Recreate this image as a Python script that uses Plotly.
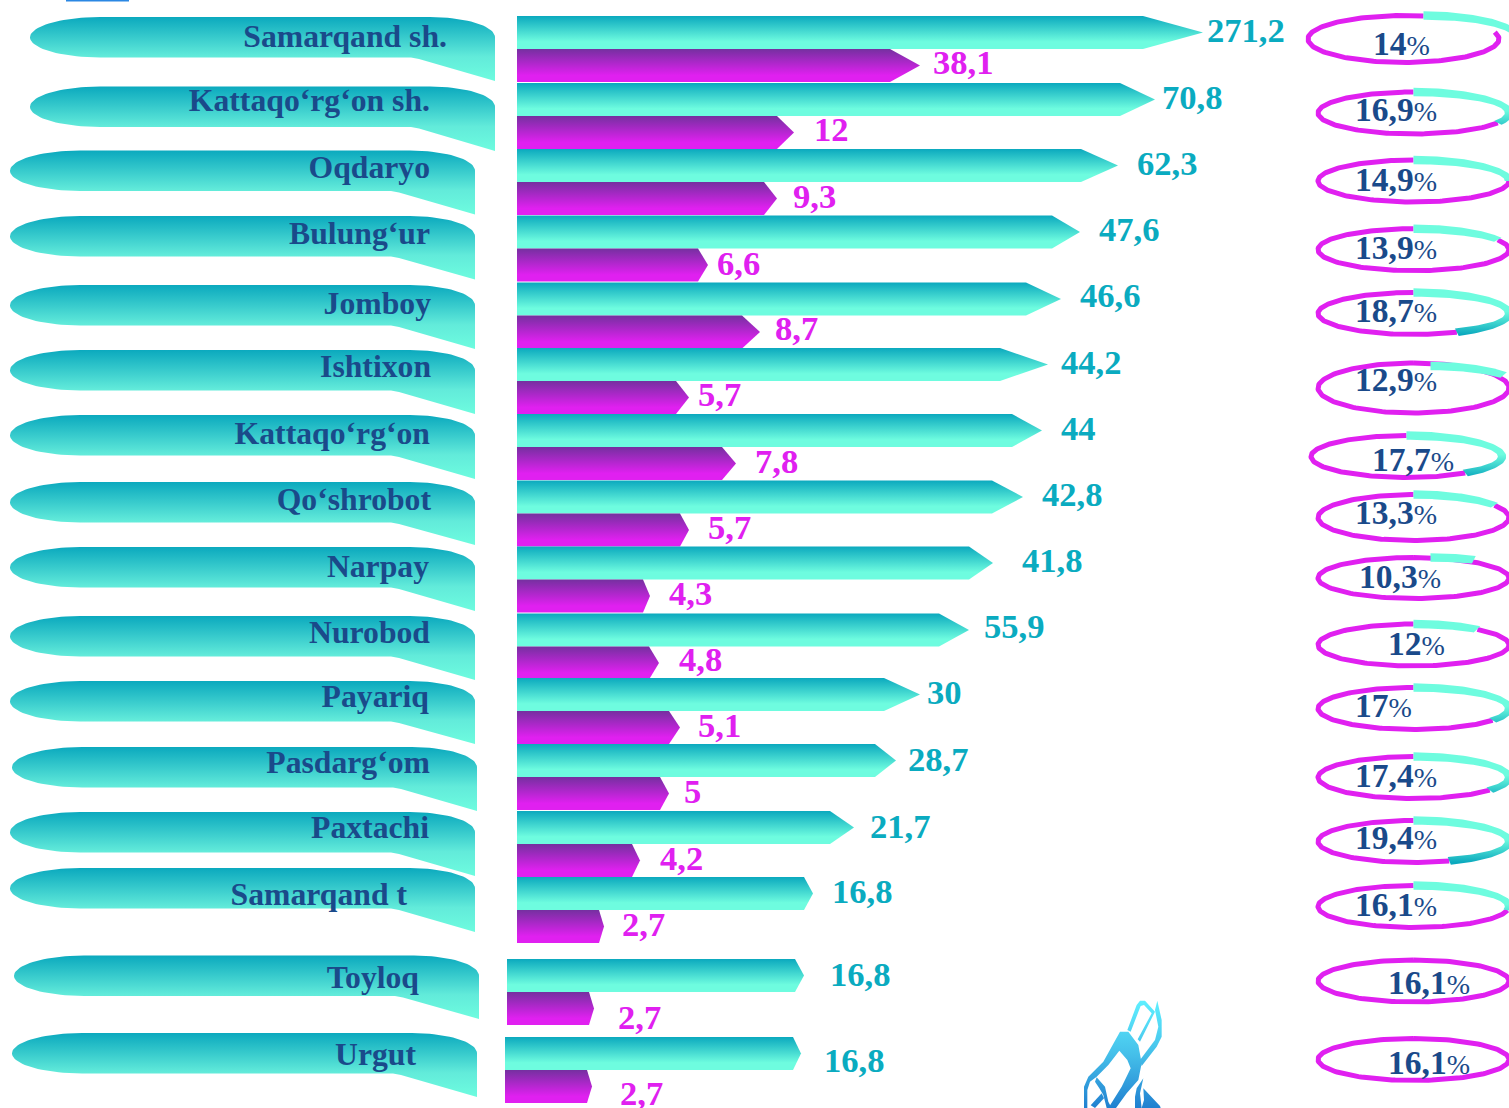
import numpy as np
import plotly.graph_objects as go

# ---------- data ----------
categories = ["Samarqand sh.", "Kattaqo‘rg‘on sh.", "Oqdaryo", "Bulung‘ur", "Jomboy", "Ishtixon",
              "Kattaqo‘rg‘on", "Qo‘shrobot", "Narpay", "Nurobod", "Payariq", "Pasdarg‘om",
              "Paxtachi", "Samarqand t", "Toyloq", "Urgut"]
teal_values = [271.2, 70.8, 62.3, 47.6, 46.6, 44.2, 44, 42.8, 41.8, 55.9, 30, 28.7, 21.7, 16.8, 16.8, 16.8]
purple_values = [38.1, 12, 9.3, 6.6, 8.7, 5.7, 7.8, 5.7, 4.3, 4.8, 5.1, 5, 4.2, 2.7, 2.7, 2.7]
share_values = [14, 16.9, 14.9, 13.9, 18.7, 12.9, 17.7, 13.3, 10.3, 12, 17, 17.4, 19.4, 16.1, 16.1, 16.1]

# drawn bar ends as they appear in the picture (the original's bars are not to scale)
teal_tip = [1203, 1155, 1118, 1080, 1061, 1048, 1042, 1023, 993, 969, 920, 896, 854, 813, 804, 801]
teal_shoulder = [1143, 1120, 1081, 1052, 1026, 1000, 1012, 992, 969, 939, 884, 875, 830, 804, 795, 793]
purple_tip = [920, 794, 777, 708, 760, 689, 736, 689, 650, 659, 680, 669, 640, 604, 594, 592]
purple_shoulder = [890, 777, 764, 698, 742, 676, 722, 680, 643, 649, 669, 660, 632, 599, 589, 587]
# drawn sweep of the ring highlight, degrees clockwise from the top (0 = none)
arc_sweep = [73, 118, 90, 62, 153, 50, 142, 58, 27, 42, 124, 127, 158, 100, 0, 0]

# ---------- layout geometry ----------
bar_x0 = [517] * 14 + [507, 505]
bar_top = [16, 83, 149, 215.5, 282.5, 348, 414, 480.5, 546.5, 613.5, 678, 744, 811, 877, 959, 1037]
BAR_H = 33
pill_left = [30, 30, 10, 10, 10, 10, 10, 10, 10, 10, 10, 12, 10, 10, 14, 12]
pill_top = [17, 86.5, 150.5, 216, 285, 350, 415, 482, 547, 616, 681, 747, 812, 868, 955.5, 1033]
pill_tail = [81, 151, 214.5, 279.5, 349, 414, 479, 545, 611, 680, 744, 811, 876, 932, 1019, 1097]
PILL_W, PILL_H = 465, 40.5
label_right = [447, 430, 430, 430, 431, 431, 430, 431, 429, 430, 429, 430, 429, 407, 419, 416]
label_y = [39.5, 103.5, 170.5, 236.5, 306.5, 369.5, 436.5, 502.5, 569.5, 635.5, 699.5, 765.5, 830.5, 897.5, 980, 1057.5]
teal_lab_x = [1207, 1162, 1137, 1099, 1080, 1061, 1061, 1042, 1022, 984, 927, 908, 870, 832, 830, 824]
teal_lab_y = [33.5, 100.5, 166.5, 232.5, 298.5, 365.5, 431.5, 497.5, 563.5, 629.5, 695.5, 762.5, 829.5, 894.5, 977.5, 1063.5]
purple_lab_x = [933, 814, 793, 717, 775, 698, 755, 708, 669, 679, 698, 684, 660, 622, 618, 620]
purple_lab_y = [65.5, 132.5, 199.5, 266.5, 331.5, 397.5, 464.5, 530.5, 596.5, 662.5, 728.5, 794.5, 861.5, 927.5, 1020.5, 1096.5]
ring_cx = [1403.5, 1413.5, 1413.5, 1413.5, 1413.5, 1413.5, 1406.5, 1413.5, 1413.5, 1413.5, 1413.5, 1413.5, 1413.5, 1413.5, 1413.5, 1413.5]
ring_cy = [39, 113, 181, 249.7, 313.5, 388, 456.5, 517.5, 578, 645, 708.5, 777.5, 841.5, 906.5, 981, 1059.5]
ring_ry = [23.5, 21, 21, 21, 21, 25, 21, 23, 20.5, 21, 21, 21, 21, 21, 21, 21]
RING_RX = 95.5
arc_dx = [20, 0, 0, 0, 0, 17, 0, 0, 17, 0, 0, 0, 0, 0, 0, 0]
arc_dy = [0, 0, 0, 0, 0, 3, 0, 0, 0, 0, 0, 0, 0, 0, 0, 0]
ring_full = [False, False, False, False, False, True, False, False, True, False, False, False, False, False, True, True]
pct_x = [1373, 1355, 1355, 1355, 1355, 1355, 1372, 1355, 1359, 1388, 1355, 1355, 1355, 1355, 1388, 1388]
pct_y = [46.5, 112.5, 182.5, 250.5, 313.5, 382.5, 462.5, 515.5, 579.5, 646.5, 708.5, 778.5, 840.5, 907.5, 985.5, 1065.5]

TEAL, MINT = "#0BA9BE", "#6EFCDF"
PURPLE_D, PURPLE_L = "#7530A0", "#E020F0"
NAVY = "#1A4A8A"
SERIF = "Liberation Serif"
teal_scale = [[0, TEAL], [0.78, MINT], [1, MINT]]
purple_scale = [[0, PURPLE_D], [0.8, PURPLE_L], [1, PURPLE_L]]
pill_scale = [[0, TEAL], [0.62, "#62EBDA"], [1, MINT]]
arc_scale = [[0, MINT], [0.45, MINT], [1, TEAL]]

fig = go.Figure()


def poly(xs, ys, scale, y0, y1):
    fig.add_trace(go.Scatter(
        x=list(xs), y=list(ys), mode="lines", line=dict(width=0), fill="toself",
        fillgradient=dict(type="vertical", colorscale=scale, start=y0, stop=y1),
        hoverinfo="skip", showlegend=False))


def pentagon(x0, shoulder, tip, top):
    return [x0, shoulder, tip, shoulder, x0, x0], [top, top, top + BAR_H / 2, top + BAR_H, top + BAR_H, top]


# label pills
for left, top, tail in zip(pill_left, pill_top, pill_tail):
    right = left + PILL_W
    bottom = top + PILL_H
    cy = top + PILL_H / 2
    a = np.linspace(np.pi, 1.5 * np.pi, 24)
    xs = list(left + 70 + 70 * np.cos(a))
    ys = list(cy + PILL_H / 2 * np.sin(a))
    a = np.linspace(1.5 * np.pi, 2 * np.pi, 24)
    xs += list(right - 65 + 65 * np.cos(a))
    ys += list(cy + PILL_H / 2 * np.sin(a))
    xs += [right, right - 76, right - 84, left + 70]
    ys += [tail, bottom + 1.5, bottom, bottom]
    a = np.linspace(0.5 * np.pi, np.pi, 24)
    xs += list(left + 70 + 70 * np.cos(a))
    ys += list(cy + PILL_H / 2 * np.sin(a))
    poly(xs, ys, pill_scale, top, tail)

# bars
for i in range(len(categories)):
    xs, ys = pentagon(bar_x0[i], teal_shoulder[i], teal_tip[i], bar_top[i])
    poly(xs, ys, teal_scale, bar_top[i], bar_top[i] + BAR_H)
    ptop = bar_top[i] + BAR_H
    xs, ys = pentagon(bar_x0[i], purple_shoulder[i], purple_tip[i], ptop)
    poly(xs, ys, purple_scale, ptop, ptop + BAR_H)

# rings
for i in range(len(categories)):
    start = 0 if ring_full[i] else arc_sweep[i]
    end = 360 if ring_full[i] else 360 + np.degrees(np.arcsin(arc_dx[i] / RING_RX))
    t = np.radians(np.linspace(start, end, 180))
    fig.add_trace(go.Scatter(
        x=ring_cx[i] + RING_RX * np.sin(t), y=ring_cy[i] - ring_ry[i] * np.cos(t), mode="lines",
        line=dict(color=PURPLE_L, width=5), hoverinfo="skip", showlegend=False))
    if arc_sweep[i] > 0:
        t = np.radians(np.linspace(0, arc_sweep[i], 60))
        w = 4.2
        cx, cy = ring_cx[i] + arc_dx[i], ring_cy[i] + arc_dy[i]
        ox = cx + (RING_RX + w) * np.sin(t)
        oy = cy - (ring_ry[i] + w) * np.cos(t)
        ix = cx + (RING_RX - w) * np.sin(t)
        iy = cy - (ring_ry[i] - w) * np.cos(t)
        poly(np.r_[ox, ix[::-1], ox[0]], np.r_[oy, iy[::-1], oy[0]], arc_scale,
             cy - ring_ry[i], cy + ring_ry[i])

# decorative flame emblem (bottom) and the sliver at the very top
def emblem(points):
    xs = [1040 + p[0] / 3 for p in points]
    ys = [980 + p[1] / 3 for p in points]
    poly(xs + xs[:1], ys + ys[:1], [[0, "#5FF0FF"], [0.5, "#45C0EA"], [1, "#2080D0"]], 1000, 1108)


emblem([(262, 150), (290, 75), (300, 62), (315, 62), (345, 95), (300, 185), (293, 178), (335, 100), (312, 75), (302, 78), (272, 155)])
emblem([(352, 62), (365, 120), (365, 170), (350, 200), (305, 258), (300, 240), (345, 180), (355, 140), (345, 90)])
emblem([(215, 200), (240, 155), (265, 155), (295, 195), (305, 250), (295, 300), (260, 340), (228, 384), (205, 384),
        (245, 320), (272, 265), (262, 240), (238, 212), (205, 255), (170, 290), (150, 305), (142, 330), (142, 384),
        (132, 384), (132, 320), (145, 290), (190, 245)])
emblem([(170, 292), (195, 320), (205, 365), (215, 384), (200, 384), (190, 345), (178, 325), (165, 305)])
emblem([(185, 340), (192, 355), (165, 384), (152, 376)])
emblem([(290, 325), (310, 295), (300, 340), (305, 384), (285, 384), (285, 350)])
emblem([(310, 325), (335, 350), (360, 378), (362, 384), (305, 384), (312, 360)])

# texts
def comma(v):
    return f"{v:g}".replace(".", ",")


fig.add_trace(go.Scatter(x=label_right, y=label_y, text=categories, mode="text", textposition="middle left",
                         textfont=dict(family=SERIF, size=31.7, color=NAVY, weight="bold"),
                         hoverinfo="skip", showlegend=False))
fig.add_trace(go.Scatter(x=teal_lab_x, y=teal_lab_y, text=[comma(v) for v in teal_values], mode="text",
                         textposition="middle right",
                         textfont=dict(family=SERIF, size=34.6, color="#0AABC0", weight="bold"),
                         hoverinfo="skip", showlegend=False))
fig.add_trace(go.Scatter(x=purple_lab_x, y=purple_lab_y, text=[comma(v) for v in purple_values], mode="text",
                         textposition="middle right",
                         textfont=dict(family=SERIF, size=34.6, color=PURPLE_L, weight="bold"),
                         hoverinfo="skip", showlegend=False))
fig.add_trace(go.Scatter(x=pct_x, y=pct_y,
                         text=[comma(v) + '<span style="font-size:28px;font-weight:normal">%</span>' for v in share_values],
                         mode="text", textposition="middle right",
                         textfont=dict(family=SERIF, size=33.5, color=NAVY, weight="bold"),
                         hoverinfo="skip", showlegend=False))

fig.update_layout(
    width=1509, height=1108, autosize=False,
    margin=dict(l=0, r=0, t=0, b=0), paper_bgcolor="white", plot_bgcolor="white",
    xaxis=dict(range=[0, 1509], visible=False, fixedrange=True),
    yaxis=dict(range=[1108, 0], visible=False, fixedrange=True),
    showlegend=False,
    shapes=[dict(type="rect", x0=66, x1=129, y0=0, y1=1.6, fillcolor="#2B87E3", line_width=0)],
)
fig.write_html("out.html", config=dict(displayModeBar=False),
               post_script="document.body.style.margin='0';document.body.style.overflow='hidden';")
